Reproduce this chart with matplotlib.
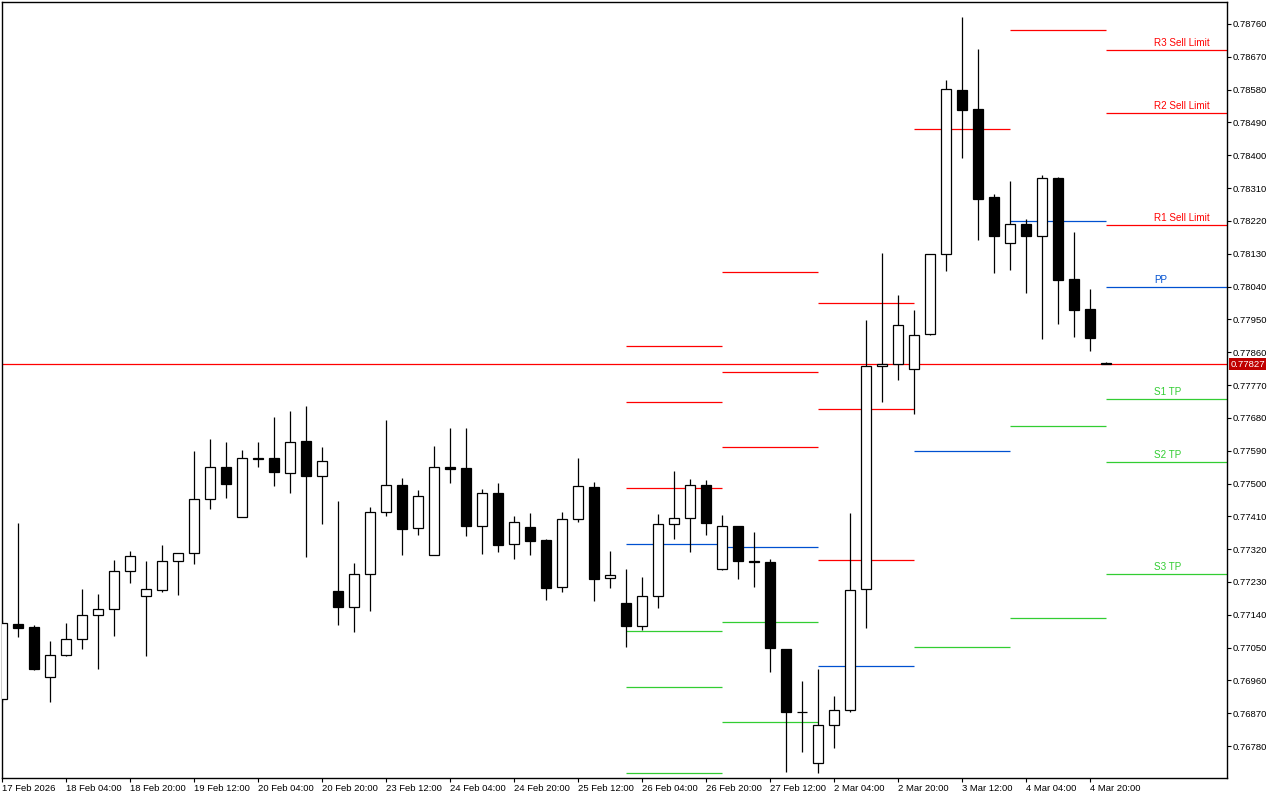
import numpy as np
import matplotlib
matplotlib.use('Agg')
import matplotlib.pyplot as plt
import matplotlib.transforms as mtransforms

# H4 candles, 17 Feb 12:00 .. 5 Mar 00:00
opens = [0.76908, 0.77115, 0.77106, 0.76969, 0.77029, 0.77073, 0.77139, 0.77155, 0.77259, 0.77191,
         0.77207, 0.77287, 0.77309, 0.77457, 0.77544, 0.77407, 0.77570, 0.77569, 0.77528, 0.77616,
         0.77521, 0.77204, 0.77162, 0.77251, 0.77421, 0.77495, 0.77377, 0.77303, 0.77544, 0.77542,
         0.77383, 0.77473, 0.77333, 0.77380, 0.77344, 0.77215, 0.77402, 0.77490, 0.77240, 0.77172,
         0.77110, 0.77192, 0.77389, 0.77405, 0.77495, 0.77266, 0.77383, 0.77287, 0.77286, 0.77047,
         0.76873, 0.76733, 0.76838, 0.76879, 0.77210, 0.77821, 0.77827, 0.77813, 0.77909, 0.78129,
         0.78578, 0.78527, 0.78286, 0.78160, 0.78211, 0.78180, 0.78337, 0.78060, 0.77978, 0.77830]
highs = [0.77125, 0.77391, 0.77111, 0.77068, 0.77118, 0.77211, 0.77197, 0.77290, 0.77315, 0.77287,
         0.77331, 0.77309, 0.77589, 0.77622, 0.77614, 0.77592, 0.77614, 0.77683, 0.77699, 0.77713,
         0.77600, 0.77452, 0.77282, 0.77436, 0.77673, 0.77515, 0.77482, 0.77603, 0.77652, 0.77652,
         0.77485, 0.77501, 0.77411, 0.77419, 0.77348, 0.77421, 0.77570, 0.77504, 0.77314, 0.77265,
         0.77243, 0.77416, 0.77535, 0.77512, 0.77509, 0.77415, 0.77383, 0.77368, 0.77293, 0.77047,
         0.76959, 0.76992, 0.76916, 0.77419, 0.77948, 0.78131, 0.78017, 0.77975, 0.78130, 0.78606,
         0.78779, 0.78691, 0.78294, 0.78330, 0.78225, 0.78346, 0.78341, 0.78190, 0.78033, 0.77832]
lows = [0.76900, 0.77080, 0.76989, 0.76902, 0.77027, 0.77047, 0.76991, 0.77083, 0.77228, 0.77028,
        0.77202, 0.77195, 0.77280, 0.77431, 0.77461, 0.77407, 0.77546, 0.77494, 0.77475, 0.77299,
        0.77390, 0.77113, 0.77094, 0.77151, 0.77412, 0.77305, 0.77360, 0.77303, 0.77502, 0.77357,
        0.77308, 0.77313, 0.77294, 0.77305, 0.77181, 0.77203, 0.77395, 0.77179, 0.77214, 0.77053,
        0.77099, 0.77160, 0.77349, 0.77312, 0.77358, 0.77263, 0.77237, 0.77215, 0.76982, 0.76708,
        0.76763, 0.76705, 0.76776, 0.76874, 0.77103, 0.77724, 0.77783, 0.77691, 0.77908, 0.78084,
        0.78393, 0.78169, 0.78078, 0.78086, 0.78023, 0.77897, 0.77938, 0.77903, 0.77864, 0.77827]
closes = [0.77117, 0.77104, 0.76992, 0.77029, 0.77073, 0.77139, 0.77155, 0.77259, 0.77300, 0.77210,
          0.77287, 0.77309, 0.77457, 0.77544, 0.77500, 0.77569, 0.77568, 0.77531, 0.77613, 0.77521,
          0.77561, 0.77162, 0.77251, 0.77421, 0.77495, 0.77376, 0.77465, 0.77544, 0.77539, 0.77384,
          0.77473, 0.77332, 0.77394, 0.77343, 0.77214, 0.77402, 0.77492, 0.77239, 0.77248, 0.77110,
          0.77191, 0.77389, 0.77405, 0.77495, 0.77391, 0.77383, 0.77287, 0.77286, 0.77048, 0.76873,
          0.76874, 0.76838, 0.76879, 0.77208, 0.77821, 0.77827, 0.77934, 0.77907, 0.78129, 0.78581,
          0.78525, 0.78281, 0.78180, 0.78211, 0.78180, 0.78337, 0.78059, 0.77977, 0.77900, 0.77827]

time_labels = ['17 Feb 2026', '18 Feb 04:00', '18 Feb 20:00', '19 Feb 12:00', '20 Feb 04:00',
               '20 Feb 20:00', '23 Feb 12:00', '24 Feb 04:00', '24 Feb 20:00', '25 Feb 12:00',
               '26 Feb 04:00', '26 Feb 20:00', '27 Feb 12:00', '2 Mar 04:00', '2 Mar 20:00',
               '3 Mar 12:00', '4 Mar 04:00', '4 Mar 20:00']

# daily pivot levels, one value per day (nan = off chart)
day_start = [39, 45, 51, 57, 63, 69]
R3 = [0.77877, 0.78080, 0.77995, np.nan, np.nan, 0.78689]
R2 = [0.77723, 0.77806, 0.77704, np.nan, np.nan, 0.78516]
R1 = [0.77488, 0.77600, 0.77290, 0.78472, 0.78744, 0.78209]
PP = [0.77334, 0.77326, 0.77000, 0.77589, 0.78220, 0.78039]
S1 = [0.77095, 0.77120, np.nan, 0.77052, 0.77658, 0.77732]
S2 = [0.76942, 0.76846, np.nan, np.nan, 0.77131, 0.77559]
S3 = [0.76706, np.nan, np.nan, np.nan, np.nan, 0.77252]
level_names = ['R3 Sell Limit', 'R2 Sell Limit', 'R1 Sell Limit', 'PP', 'S1 TP', 'S2 TP', 'S3 TP']

current_price = 0.77827

RED = '#ff0000'
BLUE = '#0050d0'
GREEN = '#32cd32'
FONT = 'Liberation Sans'

fig = plt.figure(figsize=(12.8, 8), dpi=100)
ax = fig.add_axes([2 / 1280, 22 / 800, 1225 / 1280, 776 / 800])

x = np.arange(len(opens))
o = np.array(opens); h = np.array(highs); l = np.array(lows); c = np.array(closes)
up = c >= o

ax.vlines(x, l, h, color='black', lw=0.9, zorder=3)
ax.bar(x[up], (c - o)[up], bottom=o[up], width=0.64, facecolor='white',
       edgecolor='black', lw=0.9, zorder=4)
ax.bar(x[~up], (o - c)[~up], bottom=c[~up], width=0.64, facecolor='black',
       edgecolor='black', lw=0.9, zorder=4)

# pivot segments
levels = [R3, R2, R1, PP, S1, S2, S3]
colors = [RED, RED, RED, BLUE, GREEN, GREEN, GREEN]
xmax = 76.55
for lev, col in zip(levels, colors):
    for i, s in enumerate(day_start):
        if np.isnan(lev[i]):
            continue
        end = s + 6 if i < len(day_start) - 1 else xmax
        ax.hlines(lev[i], s, end, color=col, lw=0.9, zorder=2)

for lev, col, name in zip(levels, colors, level_names):
    ax.text(72, lev[-1] + 0.00005, name, color=col, fontsize=7.1,
            family=FONT, ha='left', va='bottom', zorder=5)

# current price line + tag
ax.axhline(current_price, color=RED, lw=0.9, zorder=2)
trans = mtransforms.blended_transform_factory(ax.transAxes, ax.transData)
ax.text(1.0027, current_price, '%.5f' % current_price, transform=trans, color='white',
        fontsize=6.8, family=FONT, ha='left', va='center', clip_on=False,
        bbox=dict(boxstyle='square,pad=0.15', facecolor='#c00000', edgecolor='none'))

ax.set_xlim(-0.02, xmax)
ax.set_ylim(0.766925, 0.788203)

ax.set_xticks(np.arange(0, 69, 4))
ax.set_xticklabels(time_labels, fontsize=6.8, family=FONT, ha='left')
ax.set_yticks(np.arange(0.76780, 0.78761, 0.0009))
ax.yaxis.set_major_formatter(plt.FormatStrFormatter('%.5f'))
ax.yaxis.tick_right()
ax.tick_params(axis='y', direction='out', length=3, width=0.8, pad=1, labelsize=6.8)
ax.tick_params(axis='x', direction='out', length=3, width=0.8, pad=1)
for lbl in ax.get_yticklabels():
    lbl.set_family(FONT)

for sp in ax.spines.values():
    sp.set_linewidth(1.0)
    sp.set_color('black')

fig.savefig('out.png', dpi=100, facecolor='white')
